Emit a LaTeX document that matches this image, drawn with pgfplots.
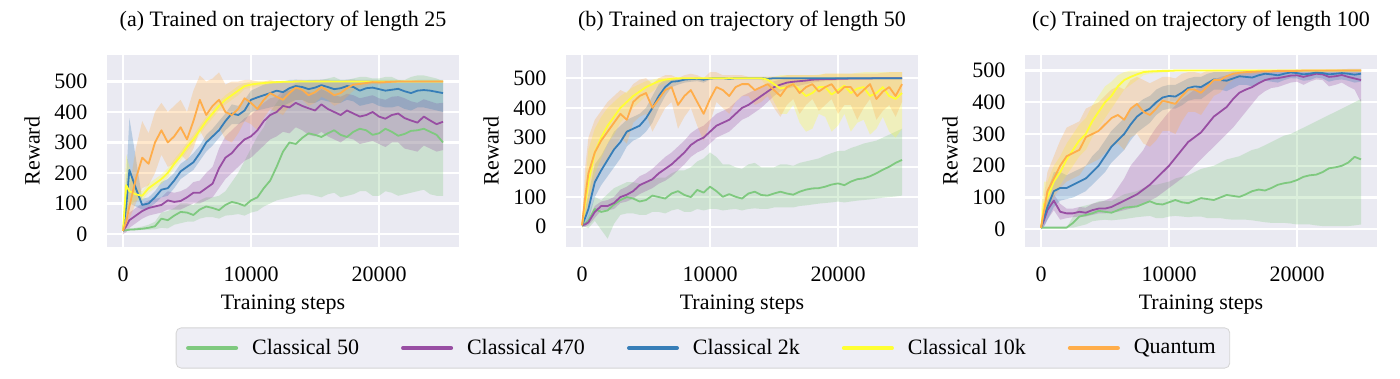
\documentclass[border=0pt]{standalone}
\usepackage{fontspec}
\setmainfont{Liberation Serif}
\usepackage{pgfplots}
\usepackage{pgfplotstable}
\pgfplotsset{compat=1.18}
\usepgfplotslibrary{fillbetween}

\definecolor{sbbg}{HTML}{EAEAF2}
\definecolor{legbg}{HTML}{EEEEF5}
\definecolor{cgreen}{HTML}{7FC97F}
\definecolor{cpurple}{HTML}{984EA3}
\definecolor{cblue}{HTML}{377EB8}
\definecolor{cyellow}{HTML}{FFFF33}
\definecolor{corange}{HTML}{FFAD4A}

% columns: mean / low / high for each model
\pgfplotstableread{
x     gm  gl  gh  pm  pl  ph  bm  bl  bh  ym  yl  yh  om  ol  oh
0     10  8   12  10  0   15  10  5   15  10  0   60  10  5   15
250   12  10  14  25  5   40  90  40  180 160 60  260 40  20  80
500   14  11  17  45  20  70  210 100 380 140 90  220 90  50  150
1000  15  12  20  60  35  85  150 90  250 130 110 150 180 100 280
1500  17  13  24  75  50  100 95  80  115 125 110 140 250 150 370
2000  20  14  30  85  60  110 100 85  120 150 135 165 230 160 330
2500  25  15  40  90  65  115 120 100 140 165 150 180 300 200 400
3000  50  20  70  95  70  120 145 120 170 180 165 195 340 260 430
3500  45  18  75  110 80  140 150 125 180 200 185 215 300 220 400
4000  60  30  85  105 80  135 175 150 200 230 215 245 320 230 420
4500  72  35  100 108 80  140 205 180 230 255 240 270 350 260 440
5000  70  40  100 120 90  150 220 195 245 285 270 300 310 240 400
5500  62  40  95  135 100 170 235 210 265 310 295 325 370 280 470
6000  80  50  110 135 100 175 265 240 290 340 325 355 440 340 520
6500  90  55  120 150 110 200 300 270 325 370 355 385 390 300 500
7000  85  55  120 165 120 220 320 290 345 395 380 410 420 320 510
7500  78  50  125 215 150 280 340 315 370 420 405 435 440 350 530
8000  95  60  140 250 180 320 370 340 395 440 425 455 400 310 490
8500  105 62  170 265 200 340 395 360 425 455 440 470 390 300 500
9000  100 65  200 290 220 360 390 360 420 470 455 485 410 330 500
9500  92  60  240 310 240 380 405 370 440 485 475 495 445 370 505
10000 110 70  280 320 250 390 440 400 470 490 480 500 430 360 505
10500 120 75  320 340 270 410 448 405 480 493 485 501 410 340 500
11000 150 90  350 370 290 430 455 410 490 495 488 502 440 380 500
11500 175 100 400 390 310 445 462 415 495 497 492 502 462 410 505
12000 220 110 430 400 320 450 470 420 500 498 494 502 450 400 500
12500 270 115 460 420 335 470 465 420 500 499 495 502 440 390 500
13000 300 120 480 415 330 470 478 430 505 499 496 502 462 420 500
13500 295 125 495 430 350 480 485 440 506 500 497 502 480 440 505
14000 315 130 500 420 340 470 482 440 505 500 498 502 473 440 505
14500 330 130 505 412 325 465 475 430 505 500 498 502 455 420 500
15000 325 125 505 405 320 460 480 430 505 500 498 502 465 430 505
15500 318 120 505 425 335 475 488 440 506 500 498 502 482 450 505
16000 330 130 510 410 320 465 482 435 506 500 498 502 470 440 505
16500 340 135 515 400 310 455 475 430 505 500 499 501 455 420 500
17000 325 120 505 390 300 450 478 430 505 500 499 501 462 430 500
17500 318 125 505 405 315 460 485 440 506 500 499 501 478 450 505
18000 335 130 510 395 310 455 482 435 506 500 499 501 490 470 505
18500 345 140 515 385 295 445 470 420 505 500 499 501 492 480 503
19000 340 140 515 390 300 450 478 425 505 500 499 501 495 485 503
19500 325 125 510 400 305 455 480 430 505 500 499 501 498 492 502
20000 330 125 510 385 295 445 475 420 505 500 499 501 497 490 502
20500 345 140 515 378 285 440 470 415 505 500 499 501 498 494 502
21000 335 135 515 390 300 450 473 415 505 500 499 501 499 495 502
21500 322 125 505 395 300 452 476 420 505 500 499 501 500 497 502
22000 328 130 505 380 280 445 468 410 503 500 499 501 500 498 502
22500 338 135 515 372 275 435 462 405 503 500 499 501 500 498 502
23000 340 140 520 365 270 430 470 415 505 500 499 501 500 498 502
23500 345 145 520 385 290 442 472 415 505 500 499 501 500 498 502
24000 335 130 515 372 280 435 470 410 505 500 499 501 500 498 502
24500 325 125 510 360 270 428 466 405 505 500 499 501 500 498 502
25000 300 125 500 368 275 430 462 400 505 500 499 501 500 498 502
}\dataA

\pgfplotstableread{
x     gm  gl  gh  pm  pl  ph  bm  bl  bh  ym  yl  yh  om  ol  oh
0     5   0   10  5   0   10  5   0   10  5   -10 20  5   0   10
250   10  0   20  8   0   15  30  10  60  80  30  150 100 30  200
500   20  -5  40  15  5   25  60  20  110 150 80  260 180 80  300
1000  60  20  100 50  30  70  150 100 210 250 180 330 250 150 360
1500  50  -10 90  70  55  85  190 140 240 300 230 370 290 200 390
2000  55  -40 110 70  55  90  225 170 280 340 280 400 320 230 420
2500  75  10  130 80  60  100 260 200 320 370 310 420 350 260 440
3000  90  40  140 100 80  125 285 230 340 400 350 440 380 300 460
3500  100 45  150 108 85  135 320 270 360 420 375 455 360 280 450
4000  95  45  150 120 95  150 330 290 370 440 400 470 420 350 480
4500  85  40  145 140 110 170 340 300 380 455 420 480 440 370 495
5000  90  40  150 150 120 180 365 320 400 470 440 490 450 380 500
5500  105 50  160 160 130 195 400 350 440 480 455 495 400 320 480
6000  100 50  165 180 145 215 440 400 480 490 475 500 430 360 500
6500  95  45  165 195 155 235 470 440 495 495 485 502 460 400 510
7000  112 55  180 210 170 250 488 470 500 498 490 502 470 420 510
7500  120 60  190 230 190 270 490 478 500 500 494 502 410 330 500
8000  107 50  190 250 210 290 495 485 502 500 495 502 440 370 510
8500  100 50  200 275 235 315 497 488 502 500 496 502 460 400 515
9000  124 60  220 290 250 330 498 490 502 500 497 502 420 340 510
9500  115 55  230 300 260 340 495 485 502 500 497 502 380 290 500
10000 135 60  250 320 280 360 499 495 502 500 498 502 430 350 520
10500 120 60  235 340 300 380 500 497 502 500 498 502 470 420 520
11000 101 55  210 350 310 390 500 497 502 500 498 502 460 400 510
11500 110 58  210 360 320 400 498 494 502 500 498 502 440 380 510
12000 101 60  200 380 340 420 500 497 502 500 498 502 470 420 510
12500 95  55  195 400 360 440 500 497 502 500 498 502 480 440 510
13000 112 60  210 410 370 450 500 497 502 500 498 502 480 440 505
13500 118 62  215 425 385 460 500 497 502 500 497 502 460 410 505
14000 107 60  200 440 400 470 500 497 502 500 495 502 470 420 505
14500 105 60  200 455 420 480 498 494 502 495 470 503 480 440 505
15000 112 65  200 470 440 490 500 497 502 480 420 505 460 400 505
15500 118 65  210 478 455 495 500 497 502 465 380 510 440 370 505
16000 112 65  210 485 465 498 500 497 502 470 380 510 470 410 510
16500 108 65  205 488 470 500 500 497 502 480 410 510 480 430 510
17000 118 70  215 490 475 500 500 497 502 460 350 510 450 380 510
17500 125 72  220 492 480 500 500 497 502 440 320 510 470 410 510
18000 129 75  225 495 485 500 500 497 502 450 330 510 480 430 510
18500 130 78  230 496 488 500 500 497 502 470 380 512 455 390 510
19000 135 80  240 497 490 500 500 497 502 470 370 515 470 410 515
19500 142 82  248 497 491 500 500 497 502 445 320 515 480 430 515
20000 146 85  255 498 493 501 500 497 502 460 340 515 450 380 515
20500 140 82  255 498 494 501 500 497 502 475 380 515 470 410 515
21000 152 85  265 499 496 501 500 497 502 450 320 515 470 410 515
21500 160 88  272 499 496 501 500 497 502 465 350 518 440 360 515
22000 163 90  280 499 497 501 500 497 502 470 360 520 460 400 515
22500 170 92  285 499 497 501 500 497 502 440 310 520 480 430 515
23000 180 95  290 500 498 501 500 497 502 450 330 520 430 360 515
23500 192 98  300 500 498 501 500 497 502 470 370 520 455 390 518
24000 202 100 310 500 498 501 500 497 502 440 320 520 470 410 520
24500 215 102 320 500 498 501 500 497 502 430 300 520 440 370 520
25000 225 105 330 500 498 501 500 497 502 450 330 520 480 420 520
}\dataB

\pgfplotstableread{
x     gm  gl  gh  pm  pl  ph  bm  bl  bh  ym  yl  yh  om  ol  oh
0     5   5   5   5   0   10  5   0   10  5   0   60  5   0   10
250   5   5   5   30  10  50  40  10  80  80  40  150 60  20  110
500   5   5   5   60  30  90  70  30  120 100 60  150 120 70  180
1000  5   5   5   90  60  110 120 70  180 150 110 200 160 100 230
1500  5   5   5   55  30  80  130 90  180 180 140 230 200 130 280
2000  5   5   5   50  35  65  130 95  170 220 170 270 230 150 320
2500  20  5   40  50  38  65  140 100 180 250 200 300 240 160 330
3000  40  10  70  55  40  70  150 110 190 280 230 330 250 170 340
3500  45  15  75  52  40  68  160 120 200 300 250 350 290 200 380
4000  50  25  80  60  45  80  180 140 230 340 290 390 300 210 390
4500  58  28  88  65  50  85  200 160 250 370 320 420 310 220 400
5000  55  30  90  65  50  90  230 180 280 400 350 450 330 240 420
5500  52  28  88  70  52  100 260 210 310 420 380 465 350 260 440
6000  60  30  100 80  55  130 280 230 330 450 410 485 360 270 450
6500  68  32  110 90  60  160 300 250 350 470 440 495 345 250 440
7000  70  35  115 100 65  200 330 280 380 480 455 500 380 290 470
7500  72  38  120 110 70  225 355 305 395 488 470 500 395 300 480
8000  80  40  130 125 80  250 370 320 410 495 485 502 370 270 470
8500  88  42  140 140 90  290 380 335 420 497 490 502 360 260 460
9000  80  35  140 160 100 320 400 360 440 498 492 502 380 280 470
9500  78  35  145 180 115 345 415 375 450 499 494 502 405 310 480
10000 85  40  150 200 130 370 420 380 455 499 495 502 400 310 480
10500 92  42  160 225 145 390 418 380 455 500 497 502 395 300 475
11000 85  40  165 250 160 410 430 390 465 500 497 502 420 340 490
11500 82  38  170 275 180 425 445 405 475 500 498 502 440 370 495
12000 90  40  180 290 200 440 450 410 480 500 498 502 440 370 495
12500 98  40  190 305 220 450 448 410 480 500 498 502 430 360 490
13000 95  35  195 330 240 460 460 425 490 500 498 502 450 390 500
13500 92  35  200 355 260 470 472 440 495 500 498 502 470 420 502
14000 100 35  210 370 280 480 470 440 495 500 498 502 470 430 502
14500 108 32  220 385 300 485 468 435 495 500 498 502 482 455 502
15000 105 30  225 410 320 490 475 445 498 500 498 502 490 470 502
15500 102 30  230 430 345 492 482 455 500 500 498 502 493 480 502
16000 110 30  240 440 370 495 480 455 500 500 498 502 495 485 502
16500 120 28  250 448 395 497 478 450 500 500 498 502 496 488 502
17000 125 25  255 460 420 498 485 460 502 500 498 502 497 490 502
17500 122 22  265 470 435 499 490 468 502 500 498 502 498 492 502
18000 130 20  275 475 445 500 488 465 502 500 498 502 498 493 502
18500 140 20  285 476 448 500 485 462 502 500 498 502 499 494 502
19000 145 20  295 480 455 500 490 470 502 500 498 502 499 495 502
19500 148 18  300 484 462 501 494 476 502 500 498 502 499 495 502
20000 155 15  310 485 465 502 492 475 502 500 498 502 499 496 502
20500 165 15  320 480 455 502 488 468 502 500 498 502 500 497 502
21000 170 15  330 485 465 502 490 470 502 500 498 502 500 497 502
21500 172 12  340 490 472 502 494 478 502 500 498 502 500 497 502
22000 180 10  350 488 470 502 492 475 502 500 498 502 500 497 502
22500 192 10  360 480 450 503 488 465 502 500 498 502 500 497 502
23000 195 10  370 482 455 503 490 470 502 500 498 502 500 497 502
23500 200 10  380 486 462 504 492 472 502 500 498 502 500 497 502
24000 210 10  390 480 450 505 490 468 502 500 498 502 500 497 502
24500 228 12  400 475 440 505 487 462 502 500 498 502 500 497 502
25000 220 15  410 470 400 505 490 465 502 500 498 502 500 497 502
}\dataC

% band + mean line for one model: table, column prefix, colour
\newcommand{\series}[3]{%
  \addplot[draw=none, forget plot, name path=#2lo] table[x=x, y=#2l] {#1};
  \addplot[draw=none, forget plot, name path=#2hi] table[x=x, y=#2h] {#1};
  \addplot[fill=#3, fill opacity=0.28, draw=none, forget plot] fill between[of=#2lo and #2hi];
  \addplot[color=#3, line width=0.9pt, line join=round] table[x=x, y=#2m] {#1};
}

\pgfplotsset{
  sb/.style={
    scale only axis, width=176pt, height=96pt, anchor=south west,
    axis background/.style={fill=sbbg},
    axis line style={draw=none},
    grid=major, major grid style={white, line width=1.1pt},
    major tick length=0pt,
    xmin=-1250, xmax=26250, xtick={0,10000,20000},
    ytick={0,100,...,500},
    scaled x ticks=false,
    /pgf/number format/1000 sep={},
    /pgf/number format/assume math mode=true,
    tick label style={font=\fontsize{11}{13}\selectfont},
    label style={font=\fontsize{11}{13}\selectfont},
    title style={font=\fontsize{11}{13}\selectfont, at={(axis description cs:0.5,1)}, anchor=base, yshift=8pt},
    xticklabel style={yshift=-6.5pt},
    yticklabel style={xshift=-6.3pt},
    xlabel={Training steps}, ylabel={Reward},
    xlabel style={at={(axis description cs:0.5,0)}, anchor=center, yshift=-29pt},
    ylabel style={at={(axis description cs:-0.1705,0.5)}, anchor=south},
  }
}

\begin{document}
\begin{tikzpicture}

\begin{axis}[sb, at={(53.5pt,66pt)}, ymin=-43, ymax=587,
  title={(a) Trained on trajectory of length 25}]
\series{\dataA}{g}{cgreen}
\series{\dataA}{p}{cpurple}
\series{\dataA}{b}{cblue}
\series{\dataA}{y}{cyellow}
\series{\dataA}{o}{corange}
\end{axis}

\begin{axis}[sb, at={(283pt,66pt)}, ymin=-68, ymax=578,
  title={(b) Trained on trajectory of length 50},
  legend columns=5,
  legend image code/.code={\draw[line width=2pt, line cap=round] (0pt,0pt) -- (24pt,0pt);},
  legend style={at={(0.389,-0.526)}, anchor=center, draw=black!17, fill=legbg,
    rounded corners=2.5pt, font=\fontsize{11}{13}\selectfont,
    inner xsep=5pt, inner ysep=3.5pt,
    /tikz/every odd column/.append style={column sep=5pt},
    /tikz/every even column/.append style={column sep=19pt}}]
\series{\dataB}{g}{cgreen}
\addlegendentry{Classical 50}
\series{\dataB}{p}{cpurple}
\addlegendentry{Classical 470}
\series{\dataB}{b}{cblue}
\addlegendentry{Classical 2k}
\series{\dataB}{y}{cyellow}
\addlegendentry{Classical 10k}
\series{\dataB}{o}{corange}
\addlegendentry{Quantum}
\end{axis}

\begin{axis}[sb, at={(512.5pt,66pt)}, ymin=-56, ymax=549,
  title={(c) Trained on trajectory of length 100}]
\series{\dataC}{g}{cgreen}
\series{\dataC}{p}{cpurple}
\series{\dataC}{b}{cblue}
\series{\dataC}{y}{cyellow}
\series{\dataC}{o}{corange}
\end{axis}

\pgfresetboundingbox
\path (0,0) rectangle (700pt,189.5pt);
\end{tikzpicture}
\end{document}
